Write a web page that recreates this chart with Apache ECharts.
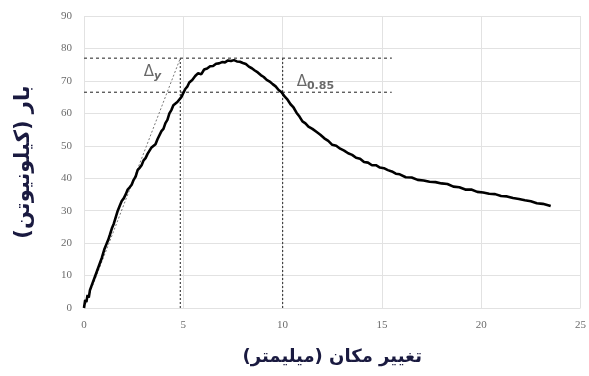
<!DOCTYPE html>
<html><head><meta charset="utf-8">
<script src="https://cdn.jsdelivr.net/npm/echarts@6/dist/echarts.min.js"></script>
<style>html,body{margin:0;padding:0;background:#fff}#c{width:589px;height:376px}</style>
</head><body><div id="c"></div>
<script>
var dispX = [0,0.06,0.12,0.18,0.24,0.3,0.36,0.42,0.48,0.54,0.6,0.66,0.72,0.78,0.84,0.9,0.96,1.02,1.08,1.15,1.22,1.3,1.4,1.5,1.6,1.7,1.8,1.9,2.0,2.1,2.2,2.3,2.4,2.5,2.6,2.7,2.8,2.9,3.0,3.1,3.2,3.3,3.4,3.5,3.6,3.7,3.8,3.9,4.0,4.1,4.2,4.3,4.4,4.5,4.6,4.7,4.8,4.9,5.0,5.1,5.2,5.3,5.45,5.6,5.75,5.9,6.05,6.2,6.35,6.5,6.65,6.8,6.95,7.1,7.25,7.4,7.55,7.7,7.85,8.0,8.15,8.3,8.45,8.6,8.75,8.9,9.05,9.2,9.35,9.5,9.65,9.8,9.95,10.1,10.25,10.4,10.55,10.7,10.85,11.0,11.15,11.3,11.5,11.7,11.9,12.1,12.3,12.5,12.7,12.9,13.1,13.3,13.5,13.7,13.9,14.1,14.3,14.5,14.7,14.9,15.1,15.3,15.5,15.7,15.9,16.2,16.5,16.8,17.1,17.4,17.7,18.0,18.3,18.6,18.9,19.2,19.5,19.8,20.1,20.4,20.7,21.0,21.3,21.6,21.9,22.2,22.5,22.8,23.1,23.5];
var loadY = [0,2.5,1.8,4,3.2,5.5,5,7.5,7,9.5,9,11.5,12,13.5,13.2,15.5,16,18,17.5,20,21,22.5,24.5,26,28,30,31.5,33,33.8,35,36.5,37.2,38,39.5,40.5,42.5,43.2,44,45.5,46.2,47.5,48,49.5,49.8,50.5,52,52.6,54.5,55.2,57,58,60,61,62.5,62.8,63.5,63.7,65,65.6,67.5,68.2,69.5,70.3,71.5,72.4,72,73.5,73.8,74.5,74.6,75.3,75.4,75.8,75.7,76.3,76.1,76.4,76,75.9,75.5,75.2,74.4,73.9,73.2,72.6,71.8,71.2,70.3,69.8,69,68.3,67.2,66.5,65.2,64.2,62.8,61.8,60.2,59,57.5,56.9,55.9,55.2,54.3,53.4,52.3,51.5,50.3,50,49.1,48.5,47.7,47.2,46.3,46,45,44.8,44,44,43.3,43.1,42.5,42.1,41.4,41.2,40.3,40.2,39.5,39.3,38.9,38.8,38.4,38.2,37.4,37.2,36.5,36.5,35.8,35.6,35.2,35.1,34.5,34.4,33.9,33.6,33.2,32.9,32.3,32.1,31.4,30.9];
var xTicks = [0,5,10,15,20,25];
var yTicks = [0,10,20,30,40,50,60,70,80,90];
var peakLoad = 77, load085 = 66.5, dispYield = 4.85, disp085 = 10, dashEndX = 15.5;
var labelDy = [3.45, 72.6], labelD085 = [11.65, 69.6];

var data = dispX.map(function(x,i){return [x, loadY[i]];});
var dashStyle = {color:'#444', width:1.2, type:[3,3]};
var chart = echarts.init(document.getElementById('c'));
chart.setOption({
  animation:false,
  grid:{left:84,right:6,top:16,bottom:68},
  xAxis:{type:'value',min:0,max:25,interval:5,
    name:'تغییر مکان (میلیمتر)',nameLocation:'middle',nameGap:40,
    nameTextStyle:{fontFamily:'DejaVu Sans',fontWeight:'bold',fontSize:18,color:'#1a1a40'},
    axisLine:{show:false},axisTick:{show:false},
    axisLabel:{color:'#6b6b6b',fontSize:11,fontFamily:'Liberation Serif',margin:12},
    splitLine:{lineStyle:{color:'#e2e2e2',width:1}}},
  yAxis:{type:'value',min:0,max:90,interval:10,
    name:'بار (کیلونیوتن)',nameLocation:'middle',nameGap:50,nameRotate:90,
    nameTextStyle:{fontFamily:'DejaVu Sans',fontWeight:'bold',fontSize:21,color:'#1a1a40'},
    axisLine:{show:false},axisTick:{show:false},
    axisLabel:{color:'#6b6b6b',fontSize:11,fontFamily:'Liberation Serif',margin:12},
    splitLine:{lineStyle:{color:'#e2e2e2',width:1}}},
  series:[
    {type:'line',data:[[0,peakLoad],[dashEndX,peakLoad]],symbol:'none',lineStyle:dashStyle,silent:true},
    {type:'line',data:[[0,load085],[dashEndX,load085]],symbol:'none',lineStyle:dashStyle,silent:true},
    {type:'line',data:[[dispYield,0],[dispYield,peakLoad]],symbol:'none',lineStyle:{color:'#444',width:1.2,type:[2,2]},silent:true},
    {type:'line',data:[[disp085,0],[disp085,peakLoad]],symbol:'none',lineStyle:{color:'#444',width:1.2,type:[2,2]},silent:true},
    {type:'line',data:[[0,0],[dispYield,peakLoad]],symbol:'none',lineStyle:{color:'#777',width:1,type:[2,2]},silent:true},
    {type:'line',data:data,symbol:'none',lineStyle:{color:'#000',width:2.6},silent:true},
    {type:'scatter',symbolSize:0,silent:true,
      data:[{value:labelDy,label:{formatter:'{a|Δ}{b|y}'}},{value:labelD085,label:{formatter:'{a|Δ}{c|0.85}'}}],
      label:{show:true,position:'inside',
        rich:{a:{fontSize:15,color:'#444',fontFamily:'DejaVu Sans'},
              b:{fontSize:11,color:'#444',fontStyle:'italic',fontWeight:'bold',fontFamily:'DejaVu Sans',verticalAlign:'bottom',padding:[8,0,0,0]},
              c:{fontSize:11,color:'#444',fontWeight:'bold',fontFamily:'DejaVu Sans',verticalAlign:'bottom',padding:[8,0,0,0]}}}}
  ]
});
</script></body></html>
